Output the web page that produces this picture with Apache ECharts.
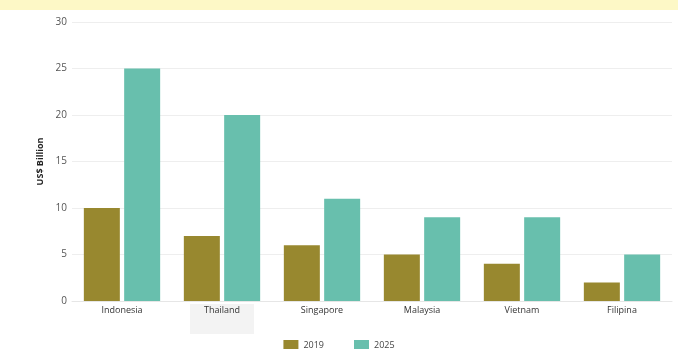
<!DOCTYPE html>
<html><head><meta charset="utf-8">
<script src="https://cdn.jsdelivr.net/npm/echarts@6/dist/echarts.min.js"></script>
<style>html,body{margin:0;padding:0;background:#fff}#c{width:678px;height:349px}</style>
</head><body><div id="c"></div>
<script>
const categories = ['Indonesia','Thailand','Singapore','Malaysia','Vietnam','Filipina'];
const values2019 = [10, 7, 6, 5, 4, 2];
const values2025 = [25, 20, 11, 9, 9, 5];
const seriesNames = ['2019','2025'];
const yMin = 0, yMax = 30, yStep = 5;

const chart = echarts.init(document.getElementById('c'));
chart.setOption({
  backgroundColor: '#ffffff',
  animation: false,
  textStyle: {fontFamily: 'Open Sans'},
  graphic: [
    {type:'rect', left:0, top:0, shape:{width:678, height:10}, style:{fill:'#fdf8c6'}, z:-1},
    {type:'rect', left:190, top:304, shape:{width:64, height:30}, style:{fill:'#f3f3f3'}, z:-1}
  ],
  grid: {left:72, right:6, top:22, bottom:48},
  legend: {
    top: 335, left: 'center', itemWidth: 15, itemHeight: 11, itemGap: 30,
    icon: 'rect',
    textStyle: {fontSize: 9, color: '#444'},
    data: seriesNames
  },
  xAxis: {
    type: 'category', data: categories,
    axisLine: {lineStyle: {color: '#e6e6e6'}},
    axisTick: {show: false},
    axisLabel: {fontSize: 9, color: '#333', margin: 5}
  },
  yAxis: {
    type: 'value', min: yMin, max: yMax, interval: yStep,
    name: 'US$ Billion', nameLocation: 'middle', nameGap: 22, nameRotate: 90,
    nameTextStyle: {fontSize: 9, color: '#222', fontWeight: 'bold'},
    axisLabel: {fontSize: 10, color: '#555', margin: 5},
    splitLine: {lineStyle: {color: '#eeeeee'}},
    axisLine: {show: false}
  },
  series: [
    {name: seriesNames[0], type: 'bar', data: values2019, barWidth: 36, barGap: '12%', itemStyle: {color: '#98882f'}},
    {name: seriesNames[1], type: 'bar', data: values2025, barWidth: 36, itemStyle: {color: '#68bfad'}}
  ]
});
</script></body></html>
